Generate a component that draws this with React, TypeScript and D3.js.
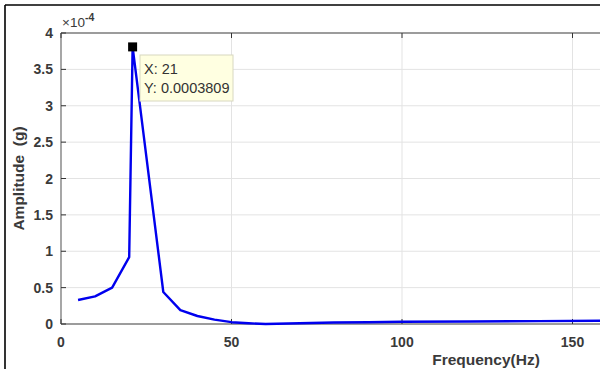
import React from "react";
import * as d3 from "d3";

const freq = [5, 10, 15, 20, 21, 30, 35, 40, 45, 50, 55, 60, 70, 80, 90, 100, 120, 140, 160, 180];
const amp = [0.33, 0.38, 0.5, 0.92, 3.809, 0.44, 0.19, 0.11, 0.06, 0.025, 0.01, 0.0, 0.01, 0.02, 0.025, 0.03, 0.035, 0.04, 0.045, 0.05];
const xTicks = [0, 50, 100, 150];
const yTicks = [0, 0.5, 1, 1.5, 2, 2.5, 3, 3.5, 4];
const tipX = 21;
const tipY = 3.809;

export default function App() {
  const left = 61, top = 33, bottom = 324;
  const x = d3.scaleLinear().domain([0, 50]).range([left, left + 170.5]);
  const y = d3.scaleLinear().domain([0, 4]).range([bottom, top]);
  const xEnd = x(200);
  const line = d3.line<number>().x((d, i) => x(freq[i])).y((d) => y(d));
  const axisColor = "#7f7f7f";
  const labelColor = "#3a3a3a";
  return (
    <svg width={600} height={369} style={{ position: "fixed", left: 0, top: 0, background: "#fff" }}
      fontFamily="Arial, 'Liberation Sans', sans-serif">
      <rect x={0} y={0} width={600} height={369} fill="#fff" />
      {/* outer border */}
      <line x1={5} y1={5} x2={600} y2={5} stroke="#000" strokeWidth={1.6} />
      <line x1={5} y1={5} x2={5} y2={369} stroke="#000" strokeWidth={1.6} />
      {/* grid */}
      {yTicks.map((t) => (
        <line key={"gy" + t} x1={left} x2={xEnd} y1={y(t)} y2={y(t)} stroke="#e3e3e3" strokeWidth={1} />
      ))}
      {xTicks.map((t) => (
        <line key={"gx" + t} x1={x(t)} x2={x(t)} y1={top} y2={bottom} stroke="#e3e3e3" strokeWidth={1} />
      ))}
      {/* axes */}
      <line x1={left} x2={xEnd} y1={bottom} y2={bottom} stroke={axisColor} strokeWidth={1.3} />
      <line x1={left} x2={xEnd} y1={top} y2={top} stroke={axisColor} strokeWidth={1.3} />
      <line x1={left} x2={left} y1={top} y2={bottom} stroke={axisColor} strokeWidth={1.3} />
      {yTicks.map((t) => (
        <g key={"ty" + t}>
          <line x1={left} x2={left + 5} y1={y(t)} y2={y(t)} stroke="#333" strokeWidth={1} />
          <text x={53} y={y(t) + 5} textAnchor="end" fontSize={14} fontWeight="bold" fill={labelColor}>{t}</text>
        </g>
      ))}
      {xTicks.map((t) => (
        <g key={"tx" + t}>
          <line x1={x(t)} x2={x(t)} y1={bottom} y2={bottom - 5} stroke="#333" strokeWidth={1} />
          <line x1={x(t)} x2={x(t)} y1={top} y2={top + 5} stroke="#333" strokeWidth={1} />
          <text x={x(t)} y={347} textAnchor="middle" fontSize={14} fontWeight="bold" fill={labelColor}>{t}</text>
        </g>
      ))}
      {/* exponent */}
      <text x={62} y={27} fontSize={13.5} fill={labelColor}>
        ×10<tspan dy={-6} fontSize={10.5} fontWeight="bold">-4</tspan>
      </text>
      {/* axis labels */}
      <text x={486} y={365} textAnchor="middle" fontSize={15.5} fontWeight="bold" fill={labelColor}>Frequency(Hz)</text>
      <text transform={`translate(24, ${(top + bottom) / 2}) rotate(-90)`} textAnchor="middle" fontSize={15.5}
        fontWeight="bold" fill={labelColor}>{"Amplitude\u00a0\u00a0(g)"}</text>
      {/* line */}
      <path d={line(amp) || ""} fill="none" stroke="#0000ee" strokeWidth={2.4} strokeLinejoin="round" />
      {/* data tip */}
      <rect x={x(tipX) - 4.5} y={y(tipY) - 4.5} width={9} height={9} fill="#000" />
      <rect x={140} y={55} width={93} height={46} fill="#ffffe1" stroke="#d8d8c0" strokeWidth={1} />
      <text x={144} y={74} fontSize={14.5} fill="#333">X: {tipX}</text>
      <text x={144} y={93} fontSize={14.5} fill="#333">Y: {(tipY / 10000).toFixed(7)}</text>
    </svg>
  );
}
